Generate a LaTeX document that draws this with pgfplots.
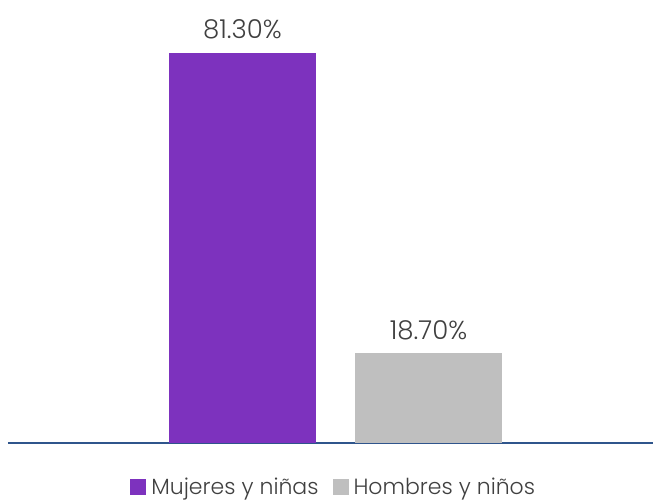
\documentclass[border=0pt]{standalone}
\usepackage{fontspec}
\setmainfont{Poppins}[UprightFont={* Light}]
\usepackage{pgfplots}
\pgfplotsset{compat=1.18}
\definecolor{purp}{RGB}{125,50,190}
\definecolor{gr}{RGB}{191,191,191}
\definecolor{axblue}{RGB}{47,85,140}
\definecolor{txt}{RGB}{64,64,64}
\begin{document}
\begin{tikzpicture}
\useasboundingbox (-8pt,-60pt) rectangle (645pt,443pt);
\begin{axis}[
  at={(0pt,0pt)}, anchor=south west,
  scale only axis, width=645pt, height=433pt,
  xmin=-1.2608, xmax=2.207, ymin=0, ymax=90.26,
  axis x line*=bottom, axis y line=none,
  x axis line style={draw=axblue, line width=1.5pt, -},
  xtick=\empty, ytick=\empty,
  /pgf/number format/assume math mode=true,
  ybar, bar width=147pt, bar shift=0pt,
  nodes near coords={\pgfmathprintnumber[fixed,fixed zerofill,precision=2]{\pgfplotspointmeta}\%},
  nodes near coords style={font=\fontsize{26}{30}\selectfont, text=txt, yshift=10pt},
  legend style={at={(0.505,-0.1016)}, anchor=center, draw=none, legend columns=2,
    font=\fontsize{22}{26}\selectfont, text=txt,
    /tikz/every even column/.append style={column sep=12pt}},
  legend image code/.code={\fill[#1] (0pt,-8pt) rectangle (16pt,8pt);},
  legend cell align=left,
]
\addplot[fill=purp, draw=none] coordinates {(0,81.3)};
\addplot[fill=gr, draw=none] coordinates {(1,18.7)};
\legend{\hspace{3pt}Mujeres y niñas, \hspace{3pt}Hombres y niños}
\end{axis}
\end{tikzpicture}
\end{document}
